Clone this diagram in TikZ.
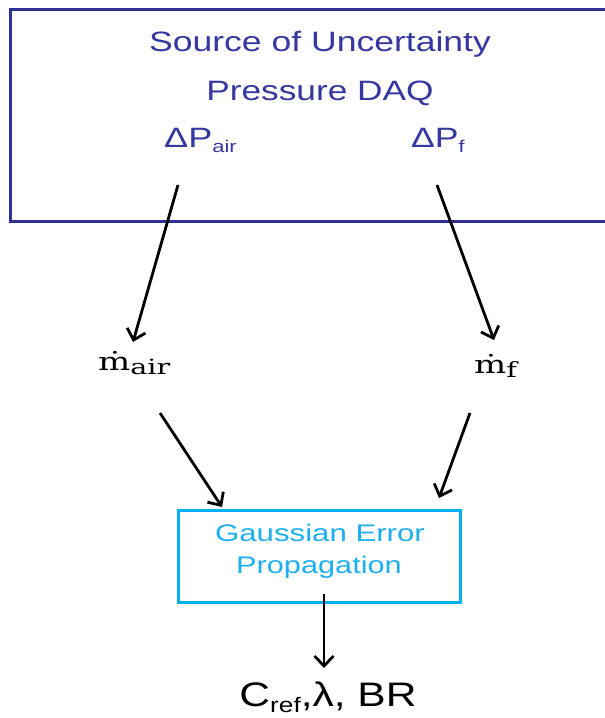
\documentclass[tikz,border=0pt]{standalone}
\usepackage[no-math]{fontspec}
\setmainfont{Liberation Sans}
\newfontfamily\mserif{DejaVu Serif}
\usepackage{graphicx}
\usetikzlibrary{arrows.meta}
\definecolor{topblue}{RGB}{46,49,146}
\definecolor{toptext}{RGB}{55,55,160}
\definecolor{cyanbox}{RGB}{0,176,240}
\definecolor{cyantext}{RGB}{30,175,240}
\newcommand{\hsc}[2]{\scalebox{#1}[1]{#2}}
\begin{document}
\begin{tikzpicture}[x=1pt,y=-1pt,
  toptxt/.style={text=toptext, inner sep=0pt, font=\fontsize{28}{28}\selectfont},
  gtxt/.style={text=cyantext, inner sep=0pt, anchor=base, font=\fontsize{24}{24}\selectfont},
  mtxt/.style={inner sep=0pt, anchor=base west, font=\mserif\fontsize{25}{25}\selectfont},
  gbox/.style={draw=cyanbox, line width=3pt, minimum width=282pt, minimum height=92pt, inner sep=0pt},
  arr/.style={line width=2.8pt, -{Straight Barb[length=10pt,width=19pt]}}]
\useasboundingbox (0,0) rectangle (605,718);
\clip (0,0) rectangle (605,718);
\draw[topblue, line width=3pt] (10,9) rectangle (640,221);
\node[toptxt, anchor=base] (src) at (320,51) {\hsc{1.27}{Source of Uncertainty}};
\node[toptxt, anchor=base] (daq) at (320,100) {\hsc{1.26}{Pressure DAQ}};
\node[toptxt, anchor=base west] (dpair) at (164,147) {\hsc{1.29}{ΔP\raisebox{-5pt}{\fontsize{17}{17}\selectfont air}}};
\node[toptxt, anchor=base west] (dpf) at (411,147) {\hsc{1.27}{ΔP\raisebox{-5pt}{\fontsize{17}{17}\selectfont f}}};
\node[mtxt] (mair) at (98,370) {\hsc{1.36}{ṁ\raisebox{-4pt}{\fontsize{21}{21}\selectfont air}}};
\node[mtxt] (mf) at (474,373) {\hsc{1.36}{ṁ\raisebox{-4pt}{\fontsize{21}{21}\selectfont f}}};
\node[gbox] (gep) at (319,556) {};
\node[gtxt] (g1) at (320,541) {\hsc{1.3}{Gaussian Error}};
\node[gtxt] (g2) at (319,573) {\hsc{1.28}{Propagation}};
\node[inner sep=0pt, anchor=base, font=\fontsize{34}{34}\selectfont] (out) at (328,706) {\hsc{1.25}{C\raisebox{-6pt}{\fontsize{21}{21}\selectfont ref},λ, BR}};
\coordinate (a1s) at (178,185); \coordinate (a1e) at (133,342);
\coordinate (a2s) at (437,185); \coordinate (a2e) at (494,340);
\coordinate (a3s) at (160,413); \coordinate (a3e) at (222,507);
\coordinate (a4s) at (470,413); \coordinate (a4e) at (439,498);
\coordinate (a5s) at (324,594); \coordinate (a5e) at (324,668);
\draw[arr] (a1s) -- (a1e);
\draw[arr] (a2s) -- (a2e);
\draw[arr] (a3s) -- (a3e);
\draw[arr] (a4s) -- (a4e);
\draw[arr] (a5s) -- (a5e);
\end{tikzpicture}
\end{document}
